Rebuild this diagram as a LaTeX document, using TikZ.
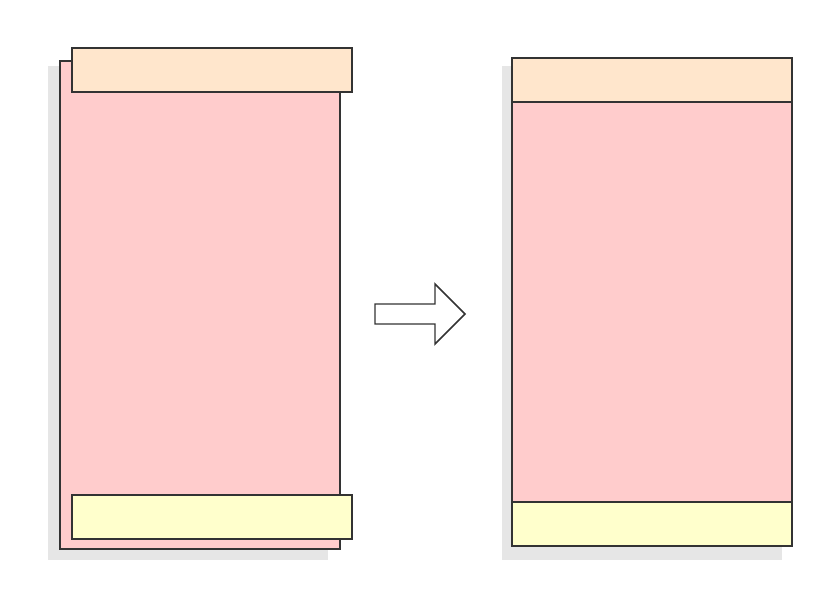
\documentclass[tikz,border=0pt]{standalone}
\begin{document}
\begin{tikzpicture}[x=0.75pt,y=-0.75pt,
  base/.style={rectangle,inner sep=0pt,outer sep=0pt,minimum width=210pt},
  shadowbox/.style={base,fill=shadowgray,draw=none},
  panel/.style={base,draw=edge,line width=1.1pt},
  tall/.style={minimum height=366pt},
  band/.style={minimum height=33pt}]
\definecolor{shadowgray}{HTML}{E6E6E6}
\definecolor{edge}{HTML}{333333}
\definecolor{pinkfill}{HTML}{FFCCCC}
\definecolor{peachfill}{HTML}{FFE6CC}
\definecolor{yellowfill}{HTML}{FFFFCC}
\useasboundingbox (0,0) rectangle (824,593);
% left stack
\node[shadowbox,minimum height=370.5pt] (lshadow) at (188,313) {};
\node[panel,tall,fill=pinkfill] (lmain) at (200,305) {};
\node[panel,band,fill=peachfill] (ltop) at (212,70) {};
\node[panel,band,fill=yellowfill] (lbottom) at (212,517) {};
% right stack
\node[shadowbox,minimum height=370.5pt] (rshadow) at (642,313) {};
\node[panel,tall,fill=pinkfill] (rmain) at (652,302) {};
\node[panel,band,fill=peachfill] (rtop) at (652,80) {};
\node[panel,band,fill=yellowfill] (rbottom) at (652,524) {};
% arrow
\draw[edge,line width=1.1pt,fill=white,line join=miter]
  (375,304) -- (435,304) -- (435,284) -- (465,314) -- (435,344) -- (435,324) -- (375,324) -- cycle;
\end{tikzpicture}
\end{document}
